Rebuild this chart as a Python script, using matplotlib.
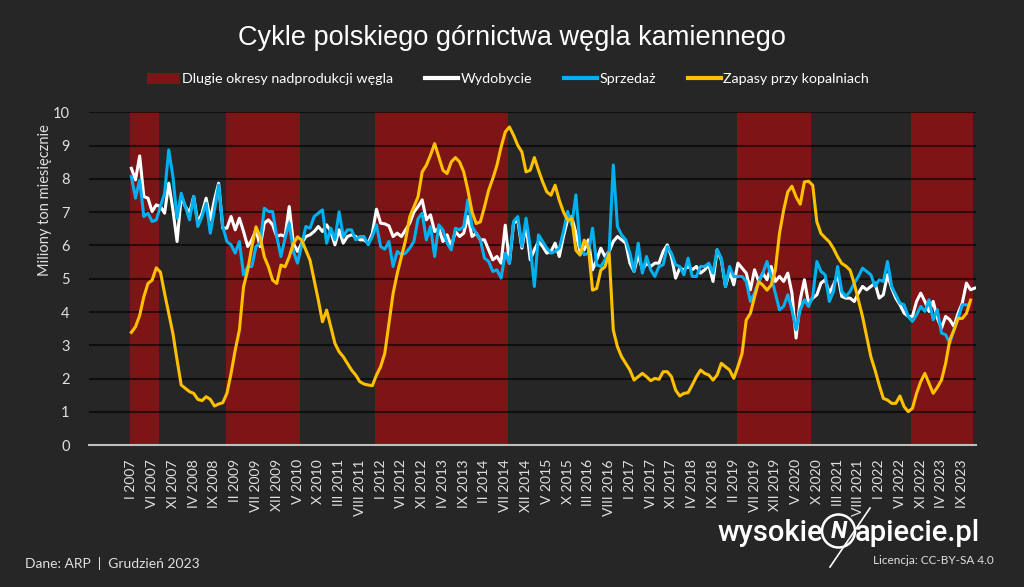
import numpy as np
import matplotlib.pyplot as plt
from matplotlib.patches import Patch, Circle
from matplotlib.lines import Line2D

nan = np.nan

rzymskie = ['I', 'II', 'III', 'IV', 'V', 'VI', 'VII', 'VIII', 'IX', 'X', 'XI', 'XII']
lata = list(range(2007, 2024))
miesiace = [m + ' ' + str(r) for r in lata for m in rzymskie]  # I 2007 ... XII 2023

# mln ton miesiecznie
wydobycie = [
    8.32, 7.97, 8.69, 7.47, 7.42, 7.02, 7.22, 7.17, 6.97, 7.87,
    7.07, 6.12, 7.47, 7.17, 6.97, 7.47, 6.67, 6.97, 7.42, 6.77,
    7.37, 7.87, 6.52, 6.52, 6.87, 6.47, 6.82, 6.42, 5.97, 6.17,
    6.47, 5.97, 6.67, 6.77, 6.62, 6.27, 6.32, 6.27, 7.17, 6.07,
    5.82, 6.07, 6.27, 6.32, 6.42, 6.57, 6.42, 6.62, 6.42, 6.02,
    6.47, 6.07, 6.27, 6.32, 6.27, 6.17, 6.17, 6.07, 6.37, 7.09,
    6.67, 6.65, 6.59, 6.27, 6.37, 6.27, 6.47, 6.67, 7.00, 7.17,
    7.37, 6.77, 6.92, 6.42, 6.52, 6.12, 6.32, 5.97, 6.42, 6.27,
    6.37, 6.87, 6.27, 6.37, 6.17, 6.17, 5.87, 5.57, 5.67, 5.47,
    6.61, 5.47, 6.67, 6.77, 5.92, 6.62, 5.57, 5.87, 6.12, 5.97,
    5.77, 5.82, 6.07, 5.67, 6.27, 6.77, 6.87, 6.37, 5.82, 5.87,
    6.17, 5.27, 5.57, 5.92, 5.67, 5.82, 6.12, 6.27, 6.17, 6.07,
    5.47, 5.22, 5.72, 5.27, 5.47, 5.37, 5.47, 5.47, 5.82, 6.02,
    5.67, 5.02, 5.32, 5.27, 5.37, 5.27, 5.37, 5.17, 5.27, 5.42,
    4.92, 5.87, 5.57, 4.77, 5.22, 4.82, 5.47, 5.32, 5.17, 4.67,
    5.27, 4.92, 5.17, 4.97, 5.37, 4.92, 5.07, 4.92, 5.17, 4.57,
    3.22, 4.37, 4.97, 4.27, 4.42, 4.52, 4.87, 4.97, 4.57, 4.82,
    5.12, 4.47, 4.42, 4.42, 4.32, 4.57, 4.77, 4.67, 4.77, 4.87,
    4.42, 4.52, 5.12, 4.72, 4.42, 4.22, 3.97, 3.87, 3.87, 4.32,
    4.57, 4.32, 4.02, 4.32, 3.82, 3.52, 3.87, 3.77, 3.57, 3.97,
    4.27, 4.87, 4.67, 4.72,
]

sprzedaz = [
    8.07, 7.42, 7.97, 6.87, 6.97, 6.72, 6.77, 7.17, 7.57, 8.87,
    8.07, 6.82, 7.57, 7.17, 6.77, 7.47, 6.57, 6.87, 7.27, 6.37,
    7.07, 7.82, 6.57, 6.12, 6.02, 5.77, 6.12, 5.12, 5.37, 5.37,
    5.97, 6.07, 7.12, 7.02, 7.02, 6.27, 5.67, 6.22, 6.67, 5.82,
    5.47, 6.02, 6.57, 6.52, 6.87, 6.97, 7.07, 6.07, 6.52, 6.17,
    7.01, 6.27, 6.47, 6.47, 6.17, 6.27, 6.27, 6.02, 6.27, 6.62,
    5.97, 5.89, 6.12, 5.37, 5.82, 5.72, 5.77, 5.92, 6.12, 6.80,
    6.97, 6.17, 6.57, 5.67, 6.62, 6.47, 6.07, 5.87, 6.52, 6.47,
    6.57, 7.37, 6.57, 6.37, 6.17, 5.62, 5.52, 5.22, 5.27, 5.02,
    5.77, 5.47, 6.72, 6.87, 5.97, 6.82, 5.97, 4.77, 6.32, 6.12,
    5.92, 5.77, 5.82, 5.92, 6.42, 7.02, 6.62, 7.52, 5.97, 5.72,
    5.77, 6.52, 5.42, 5.37, 5.57, 5.82, 8.42, 6.57, 6.32, 6.17,
    5.77, 5.22, 6.07, 5.17, 5.67, 5.27, 5.07, 5.37, 5.42, 5.97,
    5.77, 5.42, 5.37, 5.12, 5.62, 5.07, 5.07, 5.37, 5.37, 5.47,
    5.17, 5.87, 5.62, 4.77, 5.37, 5.07, 5.07, 5.07, 4.92, 4.32,
    4.57, 4.92, 5.17, 5.52, 5.07, 4.57, 4.07, 4.17, 4.52, 4.07,
    3.47, 4.07, 4.37, 4.17, 4.47, 5.52, 5.22, 5.12, 4.32, 4.62,
    5.37, 4.62, 4.47, 4.62, 4.87, 5.07, 5.32, 5.22, 5.12, 4.77,
    4.97, 4.92, 5.52, 4.77, 4.52, 4.27, 4.22, 3.87, 3.72, 3.92,
    4.17, 4.02, 4.37, 3.77, 4.07, 3.37, 3.32, 3.07, 3.47, 3.81,
    4.22, 4.22, nan, nan,
]

zapasy = [
    3.39, 3.56, 3.90, 4.46, 4.86, 4.96, 5.33, 5.20, 4.56, 3.96,
    3.36, 2.56, 1.81, 1.71, 1.61, 1.56, 1.38, 1.34, 1.46, 1.38,
    1.18, 1.24, 1.28, 1.56, 2.16, 2.86, 3.46, 4.76, 5.26, 5.96,
    6.56, 6.26, 5.66, 5.36, 4.96, 4.86, 5.41, 5.36, 5.66, 6.06,
    6.26, 6.16, 5.86, 5.56, 4.96, 4.36, 3.71, 4.06, 3.56, 3.06,
    2.81, 2.66, 2.46, 2.26, 2.11, 1.91, 1.84, 1.81, 1.79, 2.11,
    2.36, 2.76, 3.66, 4.56, 5.16, 5.66, 6.16, 6.86, 7.16, 7.46,
    8.21, 8.41, 8.71, 9.06, 8.66, 8.26, 8.16, 8.51, 8.64, 8.51,
    8.21, 7.66, 7.01, 6.66, 6.71, 7.16, 7.66, 8.01, 8.41, 8.96,
    9.41, 9.56, 9.31, 9.01, 8.81, 8.21, 8.26, 8.64, 8.26, 7.91,
    7.61, 7.51, 7.81, 7.36, 7.01, 6.76, 6.81, 5.86, 5.71, 6.16,
    5.96, 4.66, 4.71, 5.26, 5.36, 5.76, 3.46, 2.96, 2.66, 2.46,
    2.26, 1.96, 2.06, 2.16, 2.06, 1.94, 2.01, 1.98, 2.21, 2.21,
    2.06, 1.66, 1.48, 1.56, 1.58, 1.81, 2.06, 2.26, 2.16, 2.11,
    1.96, 2.11, 2.46, 2.36, 2.26, 2.01, 2.36, 2.76, 3.76, 3.96,
    4.46, 4.91, 4.81, 4.66, 4.81, 5.26, 6.36, 7.06, 7.61, 7.78,
    7.46, 7.24, 7.91, 7.93, 7.81, 6.71, 6.36, 6.23, 6.11, 5.91,
    5.66, 5.46, 5.38, 5.26, 4.86, 4.36, 3.86, 3.26, 2.66, 2.26,
    1.81, 1.41, 1.36, 1.26, 1.26, 1.48, 1.16, 1.01, 1.11, 1.56,
    1.91, 2.16, 1.86, 1.56, 1.74, 1.96, 2.46, 3.16, 3.46, 3.81,
    3.81, 3.96, 4.36, nan,
]

# okresy nadprodukcji (od, do)
okresy = [('I 2007', 'VII 2007'), ('XII 2008', 'V 2010'), ('XII 2011', 'VII 2014'),
          ('III 2019', 'VIII 2020'), ('IX 2022', 'XI 2023')]

BG = '#262626'
CZERWONY = '#7d1517'
BIALY = '#ffffff'
NIEBIESKI = '#00b0f0'
ZOLTY = '#ffc000'
TXT = '#e0e0e0'
FONT = 'Lato'

fig = plt.figure(figsize=(10.24, 5.87), dpi=100, facecolor=BG)
ax = fig.add_axes([0.0869, 0.2414, 0.8662, 0.5673])
ax.set_facecolor(BG)

x = np.arange(len(miesiace))

for od, do in okresy:
    ax.axvspan(miesiace.index(od) - 0.3, miesiace.index(do) + 0.7, color=CZERWONY, lw=0, zorder=1)

for v in range(1, 11):
    ax.axhline(v, color='black', alpha=0.6, lw=1.5, zorder=2)

ax.plot(x, wydobycie, color=BIALY, lw=2.2, zorder=3)
ax.plot(x, sprzedaz, color=NIEBIESKI, lw=2.2, zorder=4)
ax.plot(x, zapasy, color=ZOLTY, lw=2.2, zorder=5)

ax.set_ylim(0, 10)
ax.set_xlim(-10.2, 203.3)
ax.set_yticks(range(0, 11))
ax.set_yticklabels([str(v) for v in range(0, 11)], fontsize=10.5, color=TXT, family=FONT)
ax.set_xticks(x[::5])
ax.set_xticklabels(miesiace[::5], rotation=90, fontsize=10, color=TXT, family=FONT)
ax.tick_params(length=0, pad=10)
ax.tick_params(axis='y', pad=14)
for s in ['top', 'right', 'left']:
    ax.spines[s].set_visible(False)
ax.spines['bottom'].set_color('#bfbfbf')
ax.spines['bottom'].set_linewidth(1.5)
ax.spines['bottom'].set_zorder(6)

fig.text(0.044, 1 - 200 / 587, 'Miliony ton miesięcznie', rotation=90, ha='center', va='center',
         fontsize=10.5, color=TXT, family=FONT)

fig.text(0.5, 1 - 38 / 587, 'Cykle polskiego górnictwa węgla kamiennego', ha='center', va='center',
         fontsize=19.5, color='white', family='Liberation Sans')

uchwyty = [Patch(facecolor=CZERWONY, edgecolor='none'),
           Line2D([], [], color=BIALY, lw=3),
           Line2D([], [], color=NIEBIESKI, lw=3),
           Line2D([], [], color=ZOLTY, lw=3)]
etykiety = ['Dlugie okresy nadprodukcji węgla', 'Wydobycie', 'Sprzedaż', 'Zapasy przy kopalniach']
leg = fig.legend(uchwyty, etykiety, loc='center', bbox_to_anchor=(0.496, 1 - 79 / 587), ncol=4,
                 frameon=False, handlelength=2.3, handleheight=0.9, handletextpad=0.2,
                 columnspacing=2.2, prop={'family': FONT, 'size': 10.3})
for t in leg.get_texts():
    t.set_color('white')

fig.text(25 / 1024, 1 - 563 / 587, 'Dane: ARP  |  Grudzień 2023', ha='left', va='center',
         fontsize=10, color=TXT, family=FONT)

# logo
fig.text(823 / 1024, 1 - 533 / 587, 'wysokie', ha='right', va='center', fontsize=21,
         color='white', family='Roboto', weight='medium')
fig.text(855 / 1024, 1 - 533 / 587, 'apiecie.pl', ha='left', va='center', fontsize=21,
         color='white', family='Roboto', weight='medium')
fig.add_artist(Circle((8.385, 0.56), 0.165, transform=fig.dpi_scale_trans, fill=False,
                      edgecolor='white', lw=1.8))
fig.text(8.385 / 10.24, 0.56 / 5.87, 'N', ha='center', va='center', fontsize=17,
         color='white', family='Roboto', weight='bold', style='italic')
fig.add_artist(Line2D([8.70, 8.30], [0.79, 0.20], transform=fig.dpi_scale_trans, color='white', lw=1.2))
fig.text(994 / 1024, 1 - 561 / 587, 'Licencja: CC-BY-SA 4.0', ha='right', va='center',
         fontsize=8.5, color=TXT, family=FONT)

fig.savefig('out.png', dpi=100, facecolor=BG)
